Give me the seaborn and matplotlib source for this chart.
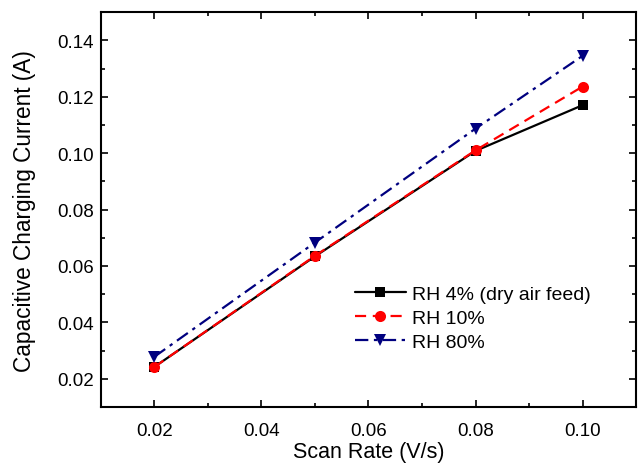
import matplotlib
matplotlib.use("Agg")
import matplotlib.pyplot as plt
import seaborn as sns
import pandas as pd
from matplotlib.ticker import MultipleLocator

scan_rate = [0.02, 0.05, 0.08, 0.10]
rh4 = [0.0242, 0.0634, 0.1008, 0.1170]
rh10 = [0.0242, 0.0636, 0.1010, 0.1236]
rh80 = [0.0278, 0.0683, 0.1087, 0.1345]
labels = ["RH 4% (dry air feed)", "RH 10%", "RH 80%"]

sns.set_theme(style="ticks")
plt.rcParams['font.family'] = ['Liberation Sans', 'DejaVu Sans']
plt.rcParams['text.color'] = 'black'
plt.rcParams['axes.labelcolor'] = 'black'

fig = plt.figure(figsize=(6.38, 4.64), dpi=100)
ax = fig.add_axes([0.158, 0.1207, 0.839, 0.851])

styles = [
    dict(color="black", marker="s", linestyle="-", markersize=7),
    dict(color="#ff0000", marker="o", linestyle=(0, (5, 3)), markersize=8),
    dict(color="#00007f", marker="v", linestyle=(0, (6, 2.5, 1.5, 2.5)), markersize=8.5),
]
for ys, lab, st in zip([rh4, rh10, rh80], labels, styles):
    df = pd.DataFrame({"x": scan_rate, "y": ys})
    sns.lineplot(data=df, x="x", y="y", ax=ax, label=lab, linewidth=1.6,
                 markeredgewidth=0, **st)

ax.set_xlim(0.01, 0.11)
ax.set_ylim(0.01, 0.15)
ax.xaxis.set_minor_locator(MultipleLocator(0.01))
ax.yaxis.set_minor_locator(MultipleLocator(0.01))
ax.set_xticks([0.02, 0.04, 0.06, 0.08, 0.10])
ax.set_xticklabels(["0.02", "0.04", "0.06", "0.08", "0.10"])
ax.set_yticks([0.02, 0.04, 0.06, 0.08, 0.10, 0.12, 0.14])
ax.set_yticklabels(["0.02", "0.04", "0.06", "0.08", "0.10", "0.12", "0.14"])
ax.tick_params(which="both", direction="in", top=True, right=True, width=1.2, colors="black")
ax.tick_params(which="major", length=5, labelsize=13.5)
ax.tick_params(which="minor", length=3)
ax.tick_params(axis="x", which="major", pad=11)
ax.tick_params(axis="y", which="major", pad=5)
for s in ax.spines.values():
    s.set_linewidth(1.5)
    s.set_color("black")
ax.set_xlabel("Scan Rate (V/s)", fontsize=15.5, labelpad=1)
ax.set_ylabel("Capacitive Charging Current (A)", fontsize=16.3, labelpad=15)

leg = ax.legend(loc="upper left", bbox_to_anchor=(0.475, 0.308), frameon=False,
                fontsize=14, handlelength=2.6, handletextpad=0.35, labelspacing=0.33,
                borderaxespad=0, borderpad=0)

fig.savefig("out.png", dpi=100)
